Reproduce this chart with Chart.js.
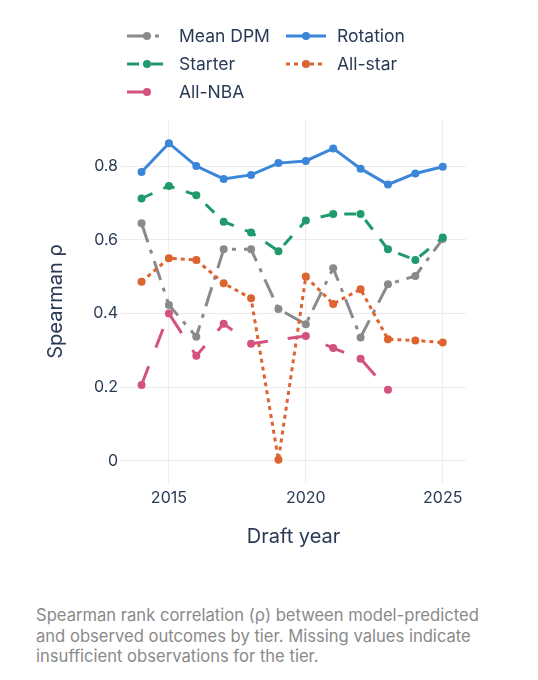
<!DOCTYPE html>
<html><head><meta charset="utf-8">
<script src="https://cdn.jsdelivr.net/npm/chart.js@4.4.1/dist/chart.umd.min.js"></script>
<style>
html,body{margin:0;padding:0;background:#fff;}
body{width:538px;height:680px;position:relative;overflow:hidden;font-family:Inter,"Noto Sans",sans-serif;}
#c{position:absolute;left:0;top:0;}
.leg{position:absolute;height:28px;line-height:28px;font-size:17.5px;color:#2a3a56;white-space:nowrap;}
.legsvg{position:absolute;}
#cap{position:absolute;left:36px;top:605px;width:480px;font-size:16.6px;line-height:20.5px;color:#8a8a8a;}
</style></head>
<body>
<canvas id="c" width="538" height="570" style="width:538px;height:570px"></canvas>
<div id="legend"></div>
<div id="cap">Spearman rank correlation (ρ) between model-predicted<br>and observed outcomes by tier. Missing values indicate<br>insufficient observations for the tier.</div>
<script>
const years = [2014,2015,2016,2017,2018,2019,2020,2021,2022,2023,2024,2025];
const meanDPM  = [0.645,0.423,0.337,0.574,0.574,0.412,0.371,0.523,0.335,0.479,0.502,0.602];
const rotation = [0.784,0.862,0.800,0.765,0.776,0.808,0.814,0.848,0.793,0.750,0.780,0.798];
const starter  = [0.712,0.746,0.721,0.649,0.620,0.569,0.652,0.670,0.670,0.574,0.545,0.606];
const allStar  = [0.486,0.550,0.545,0.482,0.441,0.003,0.500,0.426,0.466,0.330,0.327,0.321];
const allNBA   = [0.206,0.400,0.285,0.372,0.318,null,0.339,0.306,0.277,0.193,null,null];
const seriesNames = ['Mean DPM','Rotation','Starter','All-star','All-NBA'];
const yTicks = [0,0.2,0.4,0.6,0.8];
const yTickLabels = ['0','0.2','0.4','0.6','0.8'];
const xTicks = [2015,2020,2025];
const xTickLabels = ['2015','2020','2025'];

const seriesValues = [meanDPM,rotation,starter,allStar,allNBA];
const styles = [
  {color:'#8a8a8a', dash:[20,8,4,8]},
  {color:'#3b86d8', dash:[]},
  {color:'#1f9a6b', dash:[12,12]},
  {color:'#dd6330', dash:[4,4]},
  {color:'#d4527f', dash:[20,20]}
];
const TXT = '#2a3a56';

const datasets = seriesNames.map((name,i)=>({
  label:name,
  data: years.map((x,j)=>({x:x, y:seriesValues[i][j]})),
  borderColor: styles[i].color,
  backgroundColor: styles[i].color,
  borderWidth: 3,
  borderDash: styles[i].dash,
  borderCapStyle:'butt',
  pointRadius: 4,
  pointHoverRadius: 4,
  pointBorderWidth: 0,
  pointBackgroundColor: styles[i].color,
  spanGaps: true,
  tension: 0,
  order: 5-i,
  clip: false
}));

new Chart(document.getElementById('c'), {
  type:'line',
  data:{datasets},
  options:{
    responsive:false, animation:false, events:[],
    layout:{padding:{left:0,right:72,top:120,bottom:0}},
    plugins:{legend:{display:false}, tooltip:{enabled:false}},
    scales:{
      x:{
        type:'linear', min:2013.25, max:2025.85,
        afterBuildTicks:s=>{ s.ticks = xTicks.map(v=>({value:v})); },
        afterFit:s=>{ s.height = 87; },
        ticks:{callback:(v,i)=>xTickLabels[i], font:{family:'Inter',size:16}, color:TXT, padding:6, maxRotation:0, autoSkip:false},
        grid:{color:'#ececec', lineWidth:1, drawTicks:false},
        border:{display:false},
        title:{display:true, text:'Draft year', font:{family:'Inter',size:20}, color:TXT, padding:{top:0,bottom:21}}
      },
      y:{
        type:'linear', min:-0.06, max:0.925,
        afterBuildTicks:s=>{ s.ticks = yTicks.map(v=>({value:v})); },
        afterFit:s=>{ s.width = 121; },
        ticks:{callback:(v,i)=>yTickLabels[i], font:{family:'Inter',size:16}, color:TXT, padding:3, autoSkip:false},
        grid:{color:'#ececec', lineWidth:1, drawTicks:false},
        border:{display:false},
        title:{display:true, text:'Spearman ρ', font:{family:'Inter',size:20}, color:TXT, padding:{top:44,bottom:0}}
      }
    }
  }
});

// HTML legend (2 columns)
const legPos = [
  {sx:127, tx:179, cy:36},
  {sx:286, tx:337, cy:36},
  {sx:127, tx:179, cy:64},
  {sx:286, tx:337, cy:64},
  {sx:127, tx:179, cy:92}
];
const legend = document.getElementById('legend');
seriesNames.forEach((name,i)=>{
  const p = legPos[i], st = styles[i];
  const svgNS = 'http://www.w3.org/2000/svg';
  const svg = document.createElementNS(svgNS,'svg');
  svg.setAttribute('width','40'); svg.setAttribute('height','12');
  svg.setAttribute('class','legsvg');
  svg.style.left = p.sx+'px'; svg.style.top = (p.cy-6)+'px';
  const ln = document.createElementNS(svgNS,'line');
  ln.setAttribute('x1','0'); ln.setAttribute('y1','6'); ln.setAttribute('x2','40'); ln.setAttribute('y2','6');
  ln.setAttribute('stroke',st.color); ln.setAttribute('stroke-width','3');
  if (st.dash.length) ln.setAttribute('stroke-dasharray', st.dash.join(','));
  svg.appendChild(ln);
  const c = document.createElementNS(svgNS,'circle');
  c.setAttribute('cx','20'); c.setAttribute('cy','6'); c.setAttribute('r','4'); c.setAttribute('fill',st.color);
  svg.appendChild(c);
  legend.appendChild(svg);
  const d = document.createElement('div');
  d.className='leg'; d.textContent=name;
  d.style.left=p.tx+'px'; d.style.top=(p.cy-14)+'px';
  legend.appendChild(d);
});
</script>
</body></html>
